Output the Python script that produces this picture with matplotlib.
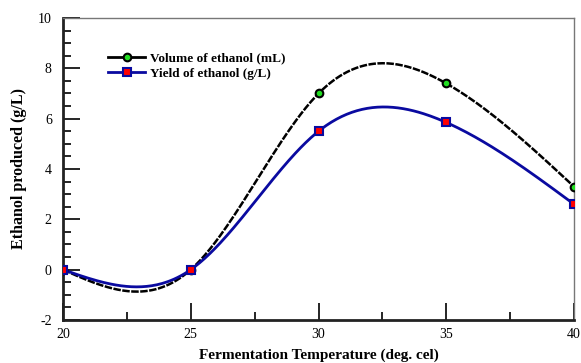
import numpy as np
import matplotlib
matplotlib.use("Agg")
import matplotlib.pyplot as plt
from matplotlib.ticker import MultipleLocator

temperature = [20, 25, 30, 35, 40]
volume_ml = [0.0, 0.0, 7.0, 7.4, 3.3]
yield_gl = [0.0, 0.0, 5.5, 5.85, 2.6]


def natural_spline(x, y, n=300):
    # natural cubic spline through the points, like the smoothed lines in the original
    x = np.asarray(x, float)
    y = np.asarray(y, float)
    k = len(x)
    h = np.diff(x)
    A = np.zeros((k, k))
    b = np.zeros(k)
    A[0, 0] = 1
    A[-1, -1] = 1
    for i in range(1, k - 1):
        A[i, i - 1] = h[i - 1]
        A[i, i] = 2 * (h[i - 1] + h[i])
        A[i, i + 1] = h[i]
        b[i] = 6 * ((y[i + 1] - y[i]) / h[i] - (y[i] - y[i - 1]) / h[i - 1])
    M = np.linalg.solve(A, b)
    xs = np.linspace(x[0], x[-1], n)
    ys = np.empty_like(xs)
    for j, xv in enumerate(xs):
        i = min(np.searchsorted(x, xv, side="right") - 1, k - 2)
        t0 = x[i + 1] - xv
        t1 = xv - x[i]
        hi = h[i]
        ys[j] = (M[i] * t0**3 / (6 * hi) + M[i + 1] * t1**3 / (6 * hi)
                 + (y[i] / hi - M[i] * hi / 6) * t0
                 + (y[i + 1] / hi - M[i + 1] * hi / 6) * t1)
    return xs, ys


plt.rcParams['font.family'] = ['Liberation Serif', 'DejaVu Serif']
plt.rcParams['axes.unicode_minus'] = False

blue = "#0a0aa0"
fig = plt.figure(figsize=(5.81, 3.63), dpi=100)
ax = fig.add_axes([0.1084, 0.1185, 0.8796, 0.8319])

xs, ys = natural_spline(temperature, volume_ml)
ax.plot(xs, ys, color="black", lw=1.8, dashes=(3, 0.6), zorder=2)
xs, ys = natural_spline(temperature, yield_gl)
ax.plot(xs, ys, color=blue, lw=2, zorder=3)

ax.plot(temperature, volume_ml, "o", ms=5.5, mfc="#22dd22", mec="black", mew=1.5, zorder=4)
ax.plot(temperature, yield_gl, "s", ms=5.5, mfc="#ff0000", mec=blue, mew=1.5, zorder=5)

# legend handles
ax.plot([], [], color="black", lw=2, marker="o", ms=5.5, mfc="#22dd22", mec="black", mew=1.5,
        label="Volume of ethanol (mL)")
ax.plot([], [], color=blue, lw=2, marker="s", ms=5.5, mfc="#ff0000", mec=blue, mew=1.5,
        label="Yield of ethanol (g/L)")
ax.legend(loc="upper left", bbox_to_anchor=(0.078, 0.905), frameon=False, handlelength=2.8,
          handletextpad=0.4, labelspacing=0.25, borderaxespad=0,
          prop={"weight": "bold", "size": 9.5})

ax.set_xlim(20, 40)
ax.set_ylim(-2, 10)
ax.xaxis.set_major_locator(MultipleLocator(5))
ax.xaxis.set_minor_locator(MultipleLocator(2.5))
ax.yaxis.set_major_locator(MultipleLocator(2))
ax.yaxis.set_minor_locator(MultipleLocator(0.5))
ax.tick_params(which="both", direction="in", top=False, right=False, width=1.2, labelsize=10)
ax.tick_params(which="major", length=12)
ax.tick_params(which="minor", length=6)
ax.tick_params(axis="x", pad=6)
ax.tick_params(axis="y", pad=8)

for s in ["left", "bottom"]:
    ax.spines[s].set_linewidth(2)
    ax.spines[s].set_color("#222222")
for s in ["top", "right"]:
    ax.spines[s].set_linewidth(1)
    ax.spines[s].set_color("#777777")

ax.set_xlabel("Fermentation Temperature (deg. cel)", fontsize=11, fontweight="bold", labelpad=5)
ax.set_ylabel("Ethanol produced (g/L)", fontsize=11.5, fontweight="bold", labelpad=8)

fig.savefig("out.png", dpi=100)
